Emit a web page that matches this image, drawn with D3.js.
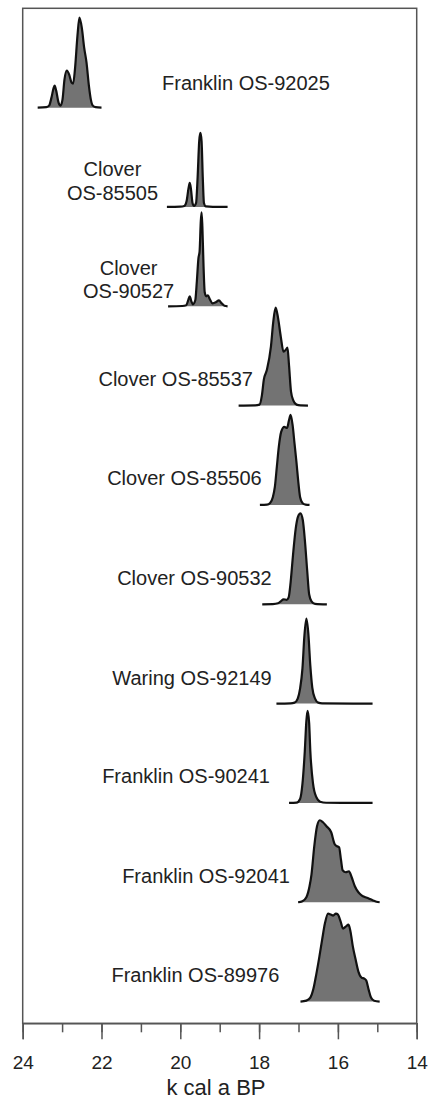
<!DOCTYPE html>
<html><head><meta charset="utf-8">
<script src="https://cdn.jsdelivr.net/npm/d3@7"></script>
<style>body{margin:0;background:#fff}svg{display:block}text{font-family:Arial,"Liberation Sans",sans-serif}</style>
</head><body><svg id="c" width="429" height="1099"></svg>
<script>
// ---- data (ky cal BP, relative probability) ----
const samples = ["Franklin OS-92025","Clover OS-85505","Clover OS-90527","Clover OS-85537","Clover OS-85506",
  "Clover OS-90532","Waring OS-92149","Franklin OS-90241","Franklin OS-92041","Franklin OS-89976"];
const labelLines = [["Franklin OS-92025"],["Clover","OS-85505"],["Clover","OS-90527"],["Clover OS-85537"],["Clover OS-85506"],
  ["Clover OS-90532"],["Waring OS-92149"],["Franklin OS-90241"],["Franklin OS-92041"],["Franklin OS-89976"]];

const franklin92025 = [[23.62,0],[23.40,0.005],[23.33,0.02],[23.27,0.10],[23.22,0.19],[23.19,0.22],[23.15,0.17],[23.09,0.05],[23.04,0.02],[22.99,0.08],[22.94,0.28],[22.88,0.37],[22.82,0.33],[22.76,0.25],[22.72,0.24],[22.67,0.40],[22.61,0.72],[22.56,0.90],[22.50,0.80],[22.44,0.60],[22.38,0.45],[22.32,0.22],[22.27,0.08],[22.22,0.02],[22.15,0.005],[22.0,0]];
const clover85505 = [[20.34,0],[20.0,0.003],[19.90,0.01],[19.84,0.06],[19.79,0.19],[19.76,0.24],[19.73,0.18],[19.69,0.04],[19.65,0.01],[19.60,0.04],[19.56,0.30],[19.52,0.66],[19.49,0.74],[19.46,0.66],[19.43,0.30],[19.40,0.04],[19.35,0.005],[19.0,0],[18.80,0]];
const clover90527 = [[20.31,0],[19.95,0.003],[19.85,0.01],[19.80,0.06],[19.76,0.10],[19.72,0.05],[19.68,0.02],[19.62,0.06],[19.58,0.25],[19.54,0.48],[19.51,0.55],[19.48,0.85],[19.46,0.94],[19.44,0.80],[19.41,0.40],[19.38,0.14],[19.34,0.10],[19.30,0.11],[19.25,0.07],[19.18,0.03],[19.10,0.04],[19.02,0.06],[18.95,0.03],[18.88,0.005],[18.80,0]];
const clover85537 = [[18.52,0],[18.10,0.002],[17.99,0.01],[17.93,0.10],[17.88,0.26],[17.80,0.36],[17.70,0.59],[17.64,0.84],[17.58,0.98],[17.52,0.88],[17.45,0.69],[17.38,0.54],[17.32,0.56],[17.28,0.58],[17.24,0.40],[17.19,0.14],[17.13,0.05],[17.05,0.01],[16.95,0.002],[16.76,0]];
const clover85506 = [[17.98,0],[17.80,0.003],[17.72,0.02],[17.65,0.08],[17.60,0.18],[17.55,0.38],[17.50,0.58],[17.44,0.73],[17.36,0.78],[17.29,0.77],[17.24,0.85],[17.20,0.90],[17.15,0.80],[17.10,0.61],[17.05,0.42],[17.01,0.25],[16.96,0.08],[16.90,0.02],[16.82,0.003],[16.72,0]];
const clover90532 = [[17.92,0],[17.65,0.002],[17.52,0.01],[17.45,0.03],[17.38,0.05],[17.30,0.045],[17.25,0.07],[17.20,0.22],[17.14,0.49],[17.07,0.76],[17.01,0.88],[16.95,0.91],[16.89,0.84],[16.84,0.65],[16.78,0.34],[16.73,0.10],[16.67,0.03],[16.58,0.005],[16.28,0]];
const waring92149 = [[17.56,0],[17.20,0.003],[17.10,0.01],[17.02,0.05],[16.96,0.15],[16.90,0.35],[16.85,0.68],[16.80,0.85],[16.75,0.70],[16.70,0.38],[16.65,0.16],[16.58,0.05],[16.50,0.01],[16.40,0.003],[15.12,0]];
const franklin90241 = [[17.24,0],[17.05,0.003],[16.96,0.04],[16.90,0.19],[16.84,0.52],[16.80,0.82],[16.77,0.92],[16.73,0.80],[16.70,0.52],[16.63,0.19],[16.55,0.06],[16.45,0.012],[16.30,0.002],[15.12,0]];
const franklin92041 = [[17.01,0],[16.90,0.01],[16.80,0.05],[16.72,0.16],[16.67,0.28],[16.60,0.56],[16.53,0.76],[16.46,0.82],[16.38,0.80],[16.29,0.76],[16.17,0.70],[16.08,0.58],[16.02,0.56],[15.97,0.55],[15.92,0.42],[15.88,0.32],[15.80,0.30],[15.72,0.31],[15.65,0.25],[15.57,0.16],[15.48,0.10],[15.40,0.07],[15.30,0.05],[15.23,0.04],[15.12,0.02],[15.02,0.005],[14.94,0]];
const franklin89976 = [[16.95,0],[16.80,0.01],[16.70,0.04],[16.62,0.13],[16.55,0.27],[16.47,0.45],[16.40,0.62],[16.33,0.78],[16.25,0.88],[16.18,0.87],[16.12,0.86],[16.05,0.88],[16.00,0.87],[15.93,0.80],[15.87,0.73],[15.80,0.75],[15.73,0.77],[15.68,0.70],[15.62,0.55],[15.55,0.42],[15.48,0.30],[15.40,0.24],[15.33,0.23],[15.28,0.21],[15.22,0.12],[15.16,0.04],[15.08,0.008],[14.94,0]];
const seriesList = [franklin92025,clover85505,clover90527,clover85537,clover85506,clover90532,waring92149,franklin90241,franklin92041,franklin89976];

const xTicks = [24,23,22,21,20,19,18,17,16,15,14];
const xLabelTicks = [24,22,20,18,16,14];
const xTitle = "k cal a BP";

// ---- layout (positions, not data) ----
const L = {left:22.7, right:416.7, top:8.3, rowsBottom:1001.6, axisY:1023.3};
const labelLayout = [
  {x:162, dy:-18, anchor:"start"},
  {x:112.5, dy:-7.4, anchor:"middle"},
  {x:128.6, dy:-8, anchor:"middle"},
  {x:253, dy:-20, anchor:"end"},
  {x:261.7, dy:-19.6, anchor:"end"},
  {x:271.7, dy:-19, anchor:"end"},
  {x:271.7, dy:-18.4, anchor:"end"},
  {x:270, dy:-19.8, anchor:"end"},
  {x:290, dy:-19.2, anchor:"end"},
  {x:279.3, dy:-20, anchor:"end"}
];

const svg = d3.select("#c");
const x = d3.scaleLinear().domain([24,14]).range([L.left, L.right]);
const yRow = d3.scaleBand().domain(samples).range([L.top, L.rowsBottom]).padding(0);
const h = d3.scaleLinear().domain([0,1]).range([0,100]);

// frame
svg.append("rect").attr("x",L.left).attr("y",L.top).attr("width",L.right-L.left).attr("height",L.axisY-L.top)
  .attr("fill","none").attr("stroke","#555").attr("stroke-width",1.5);

samples.forEach((name,i)=>{
  const base = yRow(name)+yRow.bandwidth();
  const data = seriesList[i];
  const area = d3.area().x(d=>x(d[0])).y0(base).y1(d=>base-h(d[1])).curve(d3.curveMonotoneX);
  const line = d3.line().x(d=>x(d[0])).y(d=>base-h(d[1])).curve(d3.curveMonotoneX);
  svg.append("path").attr("d",area(data)).attr("fill","#737373").attr("stroke","none");
  svg.append("path").attr("d",line(data)).attr("fill","none").attr("stroke","#111").attr("stroke-width",2.2).attr("stroke-linejoin","round");
  const lay = labelLayout[i];
  const lines = labelLines[i];
  const t = svg.append("text").attr("text-anchor",lay.anchor).attr("font-size",20).attr("fill","#222");
  lines.forEach((s,k)=>{
    t.append("tspan").attr("x",lay.x).attr("y",base+lay.dy-(lines.length-1-k)*23.5).text(s);
  });
});

// axis: minor ticks
const gMinor = svg.append("g").attr("transform",`translate(0,${L.axisY})`)
  .call(d3.axisBottom(x).tickValues(xTicks).tickSize(9).tickFormat(""));
gMinor.select(".domain").remove();
gMinor.selectAll("line").attr("stroke","#555").attr("stroke-width",1.5);
const gMajor = svg.append("g").attr("transform",`translate(0,${L.axisY})`)
  .call(d3.axisBottom(x).tickValues(xLabelTicks).tickSize(16).tickPadding(16).tickFormat(d3.format("d")));
gMajor.select(".domain").attr("stroke","#555").attr("stroke-width",1.5);
gMajor.selectAll("line").attr("stroke","#555").attr("stroke-width",1.5);
gMajor.selectAll("text").attr("font-size",19).attr("fill","#222").attr("font-family",'Arial,"Liberation Sans",sans-serif');

svg.append("text").attr("x",216).attr("y",1095).attr("text-anchor","middle").attr("font-size",22).attr("fill","#222").text(xTitle);
</script></body></html>
